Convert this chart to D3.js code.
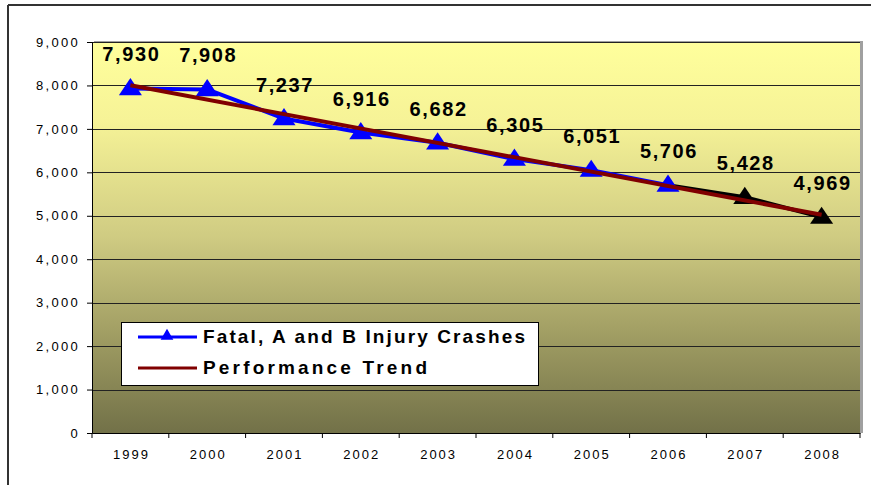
<!DOCTYPE html>
<html>
<head>
<meta charset="utf-8">
<script src="https://cdn.jsdelivr.net/npm/d3@7"></script>
<style>
  body { margin: 0; background: #fff; }
  svg { display: block; font-family: Arial, "Liberation Sans", sans-serif; }
</style>
</head>
<body>
<svg width="871" height="485"></svg>
<script>
const years = ["1999", "2000", "2001", "2002", "2003", "2004", "2005", "2006", "2007", "2008"]
const crashes = [7930, 7908, 7237, 6916, 6682, 6305, 6051, 5706, 5428, 4969]
// black markers for the last two years
const pointColors = ["#0000ff", "#0000ff", "#0000ff", "#0000ff", "#0000ff", "#0000ff", "#0000ff", "#0000ff", "#000000", "#000000"]
// trend endpoints (1999, 2008)
const trendYears = ["1999", "2008"]
const trendValues = [8003, 5023]
const yTicks = [0, 1000, 2000, 3000, 4000, 5000, 6000, 7000, 8000, 9000]
const legendLabels = ["Fatal, A and B Injury Crashes", "Performance Trend"]

const svg = d3.select("svg")

// outer frame (top + left visible)
svg.append("line").attr("x1", 8).attr("x2", 871).attr("y1", 5).attr("y2", 5)
  .attr("stroke", "#333").attr("stroke-width", 2)
svg.append("line").attr("x1", 8).attr("x2", 8).attr("y1", 5).attr("y2", 485)
  .attr("stroke", "#333").attr("stroke-width", 2)

const pLeft = 92, pRight = 860, pTop = 42, pBottom = 433

const x = d3.scaleBand().domain(years).range([pLeft, pRight])
const y = d3.scaleLinear().domain([0, 9000]).range([pBottom, pTop])

const defs = svg.append("defs")
const grad = defs.append("linearGradient").attr("id", "bg")
  .attr("x1", 0).attr("x2", 0).attr("y1", 0).attr("y2", 1)
grad.append("stop").attr("offset", 0).attr("stop-color", "#ffff9c")
grad.append("stop").attr("offset", 0.2).attr("stop-color", "#f6f397")
grad.append("stop").attr("offset", 0.5).attr("stop-color", "#cfcb82")
grad.append("stop").attr("offset", 0.75).attr("stop-color", "#a09d63")
grad.append("stop").attr("offset", 1).attr("stop-color", "#727148")

// shadow + plot area
svg.append("rect").attr("x", pLeft + 2).attr("y", pTop - 1).attr("width", pRight - pLeft + 1).attr("height", pBottom - pTop + 1)
  .attr("fill", "#a0a0a0")
svg.append("rect").attr("x", pLeft).attr("y", pTop).attr("width", pRight - pLeft).attr("height", pBottom - pTop)
  .attr("fill", "url(#bg)")

// gridlines
svg.append("g").selectAll("line").data(yTicks.filter(d => d > 0)).join("line")
  .attr("x1", pLeft).attr("x2", pRight)
  .attr("y1", d => Math.round(y(d)) + 0.5).attr("y2", d => Math.round(y(d)) + 0.5)
  .attr("stroke", "#222").attr("stroke-width", 1)

// y axis
const yAxis = svg.append("g").attr("transform", `translate(${pLeft},0)`)
  .call(d3.axisLeft(y).tickValues(yTicks).tickSize(5).tickPadding(7).tickFormat(d3.format(",")))
yAxis.select(".domain").attr("stroke", "#000")
yAxis.selectAll("text").attr("font-size", 13).attr("letter-spacing", 2.3).attr("fill", "#000")

// x axis, ticks at band edges
const xAxis = svg.append("g").attr("transform", `translate(0,${pBottom})`)
  .call(d3.axisBottom(x).tickSize(0).tickPadding(17))
xAxis.select(".domain").attr("stroke", "#000")
xAxis.selectAll("text").attr("font-size", 13).attr("letter-spacing", 2).attr("fill", "#000")
  .attr("dx", 1)
xAxis.selectAll(".edge").data(years.concat(["end"])).join("line")
  .attr("class", "edge")
  .attr("x1", (d, i) => pLeft + i * x.step()).attr("x2", (d, i) => pLeft + i * x.step())
  .attr("y1", 0).attr("y2", 5).attr("stroke", "#000")

const cx = d => x(d) + x.bandwidth() / 2

// series line segments
const segs = d3.range(1, years.length)
svg.append("g").selectAll("line").data(segs).join("line")
  .attr("x1", i => cx(years[i - 1])).attr("y1", i => y(crashes[i - 1]))
  .attr("x2", i => cx(years[i])).attr("y2", i => y(crashes[i]))
  .attr("stroke", i => pointColors[i]).attr("stroke-width", 4).attr("stroke-linecap", "round")

// markers
const tri = d3.symbol().type(d3.symbolTriangle).size(190)
svg.append("g").selectAll("path").data(years).join("path")
  .attr("d", tri)
  .attr("transform", (d, i) => `translate(${cx(d)},${y(crashes[i]) + 1}) scale(1.1,0.95)`)
  .attr("fill", (d, i) => pointColors[i])

// trend line
const trendLine = d3.line().x(d => cx(d[0])).y(d => y(d[1]))
svg.append("path").datum(d3.zip(trendYears, trendValues))
  .attr("d", trendLine).attr("fill", "none")
  .attr("stroke", "#800000").attr("stroke-width", 4)

// value labels
svg.append("g").selectAll("text").data(years).join("text")
  .attr("x", d => cx(d) + 1).attr("y", (d, i) => y(crashes[i]) - 27)
  .attr("text-anchor", "middle")
  .attr("font-size", 20).attr("font-weight", "bold").attr("letter-spacing", 1.6)
  .text((d, i) => d3.format(",")(crashes[i]))

// legend
const lg = svg.append("g")
lg.append("rect").attr("x", 121.5).attr("y", 322.5).attr("width", 417).attr("height", 63)
  .attr("fill", "#fff").attr("stroke", "#000")
lg.append("line").attr("x1", 138).attr("x2", 197).attr("y1", 337).attr("y2", 337)
  .attr("stroke", "#0000ff").attr("stroke-width", 3)
lg.append("path").attr("d", d3.symbol().type(d3.symbolTriangle).size(70))
  .attr("transform", "translate(167,336)").attr("fill", "#0000ff")
lg.append("line").attr("x1", 138).attr("x2", 197).attr("y1", 368).attr("y2", 368)
  .attr("stroke", "#800000").attr("stroke-width", 3)
const legendWidths = [322, 224]
lg.selectAll("text").data(legendLabels).join("text")
  .attr("x", 203).attr("y", (d, i) => 343 + i * 31)
  .attr("font-size", 19).attr("font-weight", "bold")
  .attr("textLength", (d, i) => legendWidths[i]).attr("lengthAdjust", "spacing")
  .text(d => d)
</script>
</body>
</html>
